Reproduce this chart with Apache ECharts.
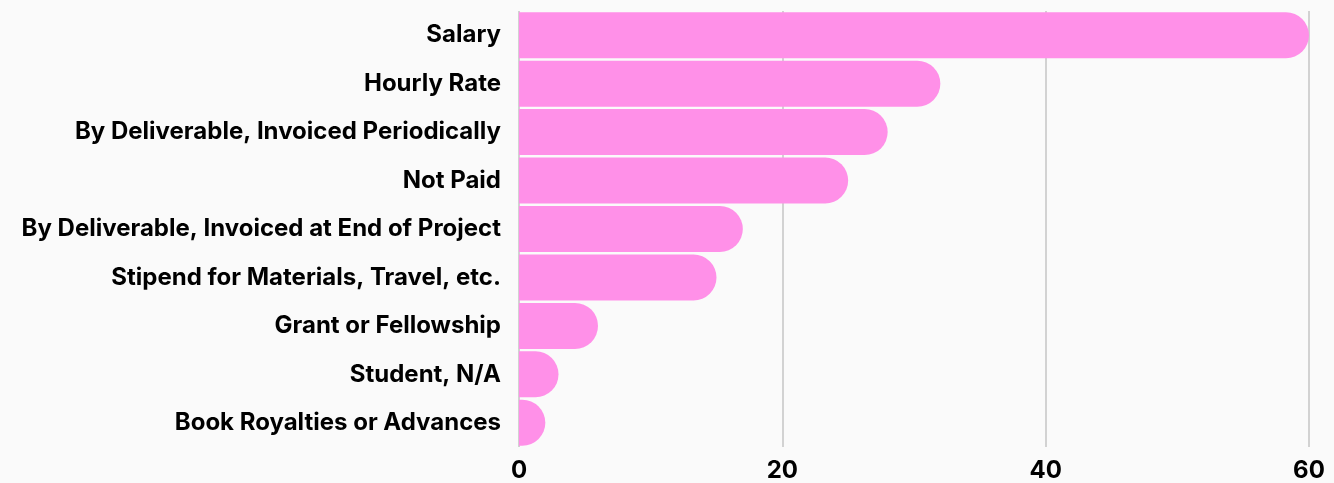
<!DOCTYPE html>
<html>
<head>
<meta charset="utf-8">
<script src="https://cdn.jsdelivr.net/npm/echarts@6/dist/echarts.min.js"></script>
<style>
  html, body { margin: 0; padding: 0; background: #fafafa; }
  #chart { width: 1334px; height: 483px; }
</style>
</head>
<body>
<div id="chart"></div>
<script>
const categories = [
  "Salary",
  "Hourly Rate",
  "By Deliverable, Invoiced Periodically",
  "Not Paid",
  "By Deliverable, Invoiced at End of Project",
  "Stipend for Materials, Travel, etc.",
  "Grant or Fellowship",
  "Student, N/A",
  "Book Royalties or Advances"
];
const counts = [60, 32, 28, 25, 17, 15, 6, 3, 2];
const tickValues = [0, 20, 40, 60];

const myChart = echarts.init(document.getElementById("chart"));

const option = {
  backgroundColor: "#fafafa",
  animation: false,
  grid: {
    left: 519,
    right: 25,
    top: 11,
    bottom: 35
  },
  xAxis: {
    type: "value",
    min: tickValues[0],
    max: tickValues[tickValues.length - 1],
    interval: 20,
    axisLine: { show: false },
    axisTick: { show: false },
    axisLabel: {
      color: "#000",
      fontFamily: "Inter",
      fontWeight: "bold",
      fontSize: 24,
      margin: 12
    },
    splitLine: {
      lineStyle: { color: "#c4c4c4", width: 1.5 }
    }
  },
  yAxis: {
    type: "category",
    inverse: true,
    data: categories,
    axisLine: { show: false },
    axisTick: { show: false },
    axisLabel: {
      color: "#000",
      fontFamily: "Inter",
      fontWeight: "bold",
      fontSize: 24,
      margin: 18
    }
  },
  series: [
    {
      type: "bar",
      data: counts,
      barCategoryGap: "5%",
      itemStyle: {
        color: "#ff90e8",
        borderRadius: [0, 23, 23, 0]
      }
    }
  ]
};

myChart.setOption(option);
</script>
</body>
</html>
